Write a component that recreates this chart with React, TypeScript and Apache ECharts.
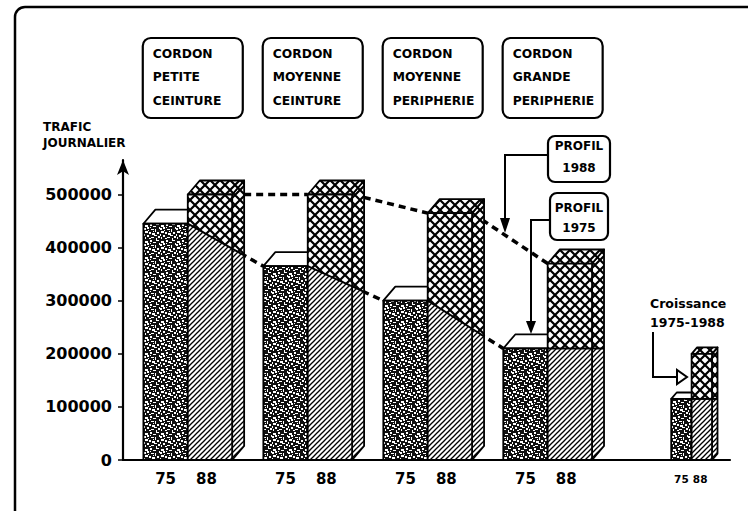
import React, { useEffect, useRef } from 'react';
import * as echarts from 'echarts';

// ---------- data ----------
const cordonNames = [
  'CORDON\nPETITE\nCEINTURE',
  'CORDON\nMOYENNE\nCEINTURE',
  'CORDON\nMOYENNE\nPERIPHERIE',
  'CORDON\nGRANDE\nPERIPHERIE',
];
const trafic1975 = [445000, 365000, 300000, 210000];
const trafic1988 = [500000, 500000, 465000, 370000];
const yearLabels = ['75', '88'];
const croissanceValues = [115000, 200000];
const croissanceTitle = 'Croissance\n1975-1988';
const yTicks = [0, 100000, 200000, 300000, 400000, 500000];
const axisTitle = 'TRAFIC\nJOURNALIER';
const profil1988 = 'PROFIL\n1988';
const profil1975 = 'PROFIL\n1975';

// ---------- layout ----------
const Y_MAX = 565000;
const X_MIN = 0.46;
const X_MAX = 5.52;
const CROISSANCE_SLOT = 5.2;
const FONT = '"DejaVu Sans", "Liberation Sans", sans-serif';

type Pat = any;

function makeTile(w: number, h: number, draw: (ctx: CanvasRenderingContext2D, w: number, h: number) => void): Pat {
  const c = document.createElement('canvas');
  c.width = w;
  c.height = h;
  const ctx = c.getContext('2d') as CanvasRenderingContext2D;
  draw(ctx, w, h);
  return { image: c, repeat: 'repeat', imageWidth: w, imageHeight: h };
}

function makePatterns() {
  const hatch = makeTile(5, 5, (ctx, w, h) => {
    ctx.fillStyle = '#fff';
    ctx.fillRect(0, 0, w, h);
    ctx.strokeStyle = '#000';
    ctx.lineWidth = 1.3;
    for (const k of [-1, 0, 1]) {
      ctx.beginPath();
      ctx.moveTo(k * w - 1, h + 1);
      ctx.lineTo(k * w + w + 1, -1);
      ctx.stroke();
    }
  });
  const cross = makeTile(10, 10, (ctx, w, h) => {
    ctx.fillStyle = '#fff';
    ctx.fillRect(0, 0, w, h);
    ctx.strokeStyle = '#000';
    ctx.lineWidth = 2.2;
    ctx.beginPath();
    ctx.moveTo(-2, -2);
    ctx.lineTo(w + 2, h + 2);
    ctx.moveTo(-2, h + 2);
    ctx.lineTo(w + 2, -2);
    ctx.stroke();
  });
  const specks = [
    [1, 1, 3, 2], [6, 0, 2, 2], [9, 2, 3, 1], [0, 4, 2, 2], [3, 3, 2, 2], [7, 5, 3, 1],
    [11, 5, 1, 3], [1, 7, 3, 2], [5, 8, 2, 2], [8, 9, 3, 2], [10, 11, 3, 1], [3, 11, 2, 2],
    [6, 3, 1, 1], [0, 10, 1, 2], [13, 8, 2, 2], [12, 0, 3, 1], [4, 6, 1, 1], [14, 12, 2, 2],
    [7, 13, 3, 1], [1, 13, 1, 2], [12, 14, 1, 2], [15, 3, 1, 2], [9, 7, 1, 1], [5, 14, 2, 1],
  ];
  const speckle = makeTile(16, 16, (ctx, w, h) => {
    ctx.fillStyle = '#111';
    ctx.fillRect(0, 0, w, h);
    ctx.fillStyle = '#fff';
    for (const [x, y, a, b] of specks) ctx.fillRect(x, y, a, b);
  });
  return { hatch, cross, speckle };
}

interface PairOpts {
  slot: number;
  v75: number;
  v88: number;
  next: { slot: number; v75: number; v88: number } | null;
  ratio: number;
  labelFont: string;
  box: string | null;
}

function buildPair(api: any, pats: any, o: PairOpts) {
  const unit = api.size([1, 0])[0];
  const bw = unit * o.ratio;
  const dx = bw * 0.27;
  const dy = -dx * 1.17;
  const [cx, y0] = api.coord([o.slot, 0]);
  const y75 = api.coord([o.slot, o.v75])[1];
  const y88 = api.coord([o.slot, o.v88])[1];
  const xL = cx - bw;
  const xM = cx;
  const xR = cx + bw;
  const outline = { stroke: '#000', lineWidth: 1.8, lineJoin: 'round' };
  const kids: any[] = [];
  let slope = 0;
  if (o.next) {
    const ncx = api.coord([o.next.slot, 0])[0];
    const ny75 = api.coord([o.next.slot, o.next.v75])[1];
    const ny88 = api.coord([o.next.slot, o.next.v88])[1];
    const nxL = ncx - bw;
    slope = (ny75 - y75) / (nxL - xM);
    kids.push({
      type: 'line',
      shape: { x1: xM, y1: y75, x2: nxL, y2: ny75 },
      style: { stroke: '#000', lineWidth: 3.5, lineDash: [7, 5] },
    });
    kids.push({
      type: 'line',
      shape: { x1: xR, y1: y88, x2: ncx, y2: ny88 },
      style: { stroke: '#000', lineWidth: 3.5, lineDash: [7, 5] },
    });
  }
  const yb = y75 + slope * bw;
  const ybs = yb + slope * dx;
  // 1975 bar: cap then front
  kids.push({
    type: 'polygon',
    shape: { points: [[xL, y75], [xM, y75], [xM + dx, y75 + dy], [xL + dx, y75 + dy]] },
    style: { fill: '#fff', ...outline },
  });
  kids.push({
    type: 'rect',
    shape: { x: xL, y: y75, width: bw, height: y0 - y75 },
    style: { fill: pats.speckle, ...outline },
  });
  // 1988 bar: side face
  const side = [[xR, y0], [xR, y88], [xR + dx, y88 + dy], [xR + dx, y0 + dy]];
  kids.push({ type: 'polygon', shape: { points: side }, style: { fill: pats.cross } });
  kids.push({
    type: 'polygon',
    shape: { points: [[xR, y0], [xR, yb], [xR + dx, ybs], [xR + dx, y0 + dy]] },
    style: { fill: pats.hatch },
  });
  kids.push({ type: 'polygon', shape: { points: side }, style: { fill: 'none', ...outline } });
  // 1988 bar: cap
  kids.push({
    type: 'polygon',
    shape: { points: [[xM, y88], [xR, y88], [xR + dx, y88 + dy], [xM + dx, y88 + dy]] },
    style: { fill: pats.cross, ...outline },
  });
  // 1988 bar: front (growth cross-hatched above the 1975 profile)
  kids.push({
    type: 'rect',
    shape: { x: xM, y: y88, width: bw, height: y0 - y88 },
    style: { fill: pats.cross },
  });
  kids.push({
    type: 'polygon',
    shape: { points: [[xM, y0], [xM, y75], [xR, yb], [xR, y0]] },
    style: { fill: pats.hatch },
  });
  kids.push({
    type: 'polyline',
    shape: { points: [[xM, y75], [xR, yb], [xR + dx, ybs]] },
    style: { fill: 'none', stroke: '#000', lineWidth: 2 },
  });
  kids.push({
    type: 'rect',
    shape: { x: xM, y: y88, width: bw, height: y0 - y88 },
    style: { fill: 'none', ...outline },
  });
  // year labels
  kids.push({
    type: 'text',
    style: { text: yearLabels[0], x: xL + bw / 2, y: y0 + 19, font: o.labelFont, fill: '#000', align: 'center', verticalAlign: 'middle' },
  });
  kids.push({
    type: 'text',
    style: { text: yearLabels[1], x: xM + bw / 2 - bw * 0.08, y: y0 + 19, font: o.labelFont, fill: '#000', align: 'center', verticalAlign: 'middle' },
  });
  // category box at top
  if (o.box) {
    const bx = cx - 45;
    kids.push({
      type: 'rect',
      shape: { x: bx, y: 38, width: 100, height: 80, r: 8 },
      style: { fill: '#fff', stroke: '#000', lineWidth: 2.2 },
    });
    kids.push({
      type: 'text',
      style: {
        text: o.box, x: bx + 10, y: 77, font: `bold 12.3px ${FONT}`, fill: '#000',
        align: 'left', verticalAlign: 'middle', lineHeight: 23.5,
      },
    });
  }
  return kids;
}

export default function App() {
  const ref = useRef<HTMLDivElement>(null);
  useEffect(() => {
    document.body.style.margin = '0';
    if (!ref.current) return;
    const pats = makePatterns();
    const chart = echarts.init(ref.current, null, { renderer: 'svg' });
    const cordonData = trafic1975.map((v, i) => [i + 1, v, trafic1988[i]]);
    const croissanceData = [[CROISSANCE_SLOT, croissanceValues[0], croissanceValues[1]]];
    const textBold = (size: number) => `bold ${size}px ${FONT}`;

    chart.setOption({
      animation: false,
      backgroundColor: '#fff',
      textStyle: { fontFamily: FONT },
      grid: { left: 123, right: 18, top: 160, bottom: 51 },
      xAxis: {
        type: 'value',
        min: X_MIN,
        max: X_MAX,
        axisLine: { show: true, lineStyle: { color: '#000', width: 2.2 } },
        axisTick: { show: false },
        axisLabel: { show: false },
        splitLine: { show: false },
      },
      yAxis: {
        type: 'value',
        min: 0,
        max: Y_MAX,
        interval: 100000,
        axisLine: {
          show: true,
          lineStyle: { color: '#000', width: 2.2 },
          symbol: ['none', 'arrow'],
          symbolSize: [9, 15],
        },
        axisTick: { show: true, length: 5, lineStyle: { color: '#000', width: 1.5 }, customValues: yTicks },
        axisLabel: {
          customValues: yTicks,
          formatter: (v: number) => (v % 100000 === 0 ? String(v) : ''),
          color: '#000',
          fontFamily: FONT,
          fontWeight: 'bold',
          fontSize: 16,
          margin: 11,
          padding: [13, 0, 0, 0],
        },
        splitLine: { show: false },
      },
      series: [
        {
          type: 'custom',
          name: 'cordons',
          data: cordonData,
          encode: { x: 0, y: [1, 2] },
          renderItem: (params: any, api: any) => {
            const i = params.dataIndex;
            const slot = api.value(0) as number;
            const next = i < trafic1975.length - 1
              ? { slot: slot + 1, v75: trafic1975[i + 1], v88: trafic1988[i + 1] }
              : null;
            return {
              type: 'group',
              children: buildPair(api, pats, {
                slot, v75: api.value(1) as number, v88: api.value(2) as number, next,
                ratio: 0.37, labelFont: textBold(15), box: cordonNames[i],
              }),
            };
          },
        },
        {
          type: 'custom',
          name: 'croissance',
          data: croissanceData,
          encode: { x: 0, y: [1, 2] },
          renderItem: (params: any, api: any) => ({
            type: 'group',
            children: buildPair(api, pats, {
              slot: api.value(0) as number, v75: api.value(1) as number, v88: api.value(2) as number,
              next: null, ratio: 0.17, labelFont: textBold(10.5), box: null,
            }),
          }),
        },
      ],
      graphic: [
        {
          type: 'rect', silent: true,
          shape: { x: 15, y: 7, width: 780, height: 560, r: 10 },
          style: { fill: 'none', stroke: '#000', lineWidth: 2.5 },
        },
        {
          type: 'text',
          style: { text: axisTitle, x: 43, y: 119, font: textBold(12), lineHeight: 16, fill: '#000', verticalAlign: 'top' },
        },
        // PROFIL 1988
        {
          type: 'rect', shape: { x: 548, y: 136, width: 62, height: 46, r: 7 },
          style: { fill: '#fff', stroke: '#000', lineWidth: 2.2 },
        },
        {
          type: 'text',
          style: { text: profil1988, x: 579, y: 157, font: textBold(12), lineHeight: 22, fill: '#000', align: 'center', verticalAlign: 'middle' },
        },
        {
          type: 'polyline', shape: { points: [[548, 155], [505, 155], [505, 222]] },
          style: { fill: 'none', stroke: '#000', lineWidth: 2 },
        },
        { type: 'polygon', shape: { points: [[500, 218], [510, 218], [505, 233]] }, style: { fill: '#000' } },
        // PROFIL 1975
        {
          type: 'rect', shape: { x: 550, y: 193, width: 58, height: 47, r: 7 },
          style: { fill: '#fff', stroke: '#000', lineWidth: 2.2 },
        },
        {
          type: 'text',
          style: { text: profil1975, x: 579, y: 218, font: textBold(12), lineHeight: 20, fill: '#000', align: 'center', verticalAlign: 'middle' },
        },
        {
          type: 'polyline', shape: { points: [[550, 220], [531, 220], [531, 326]] },
          style: { fill: 'none', stroke: '#000', lineWidth: 2 },
        },
        { type: 'polygon', shape: { points: [[526, 321], [536, 321], [531, 334]] }, style: { fill: '#000' } },
        // Croissance legend
        {
          type: 'text',
          style: { text: croissanceTitle, x: 650, y: 313, font: textBold(12.5), lineHeight: 19, fill: '#000', align: 'left', verticalAlign: 'middle' },
        },
        {
          type: 'polyline', shape: { points: [[653, 332], [653, 377], [677, 377]] },
          style: { fill: 'none', stroke: '#000', lineWidth: 2 },
        },
        {
          type: 'polygon', shape: { points: [[677, 370], [677, 384], [687, 377]] },
          style: { fill: '#fff', stroke: '#000', lineWidth: 2 },
        },
      ],
    });
    return () => chart.dispose();
  }, []);
  return <div ref={ref} style={{ width: 748, height: 511 }} />;
}
